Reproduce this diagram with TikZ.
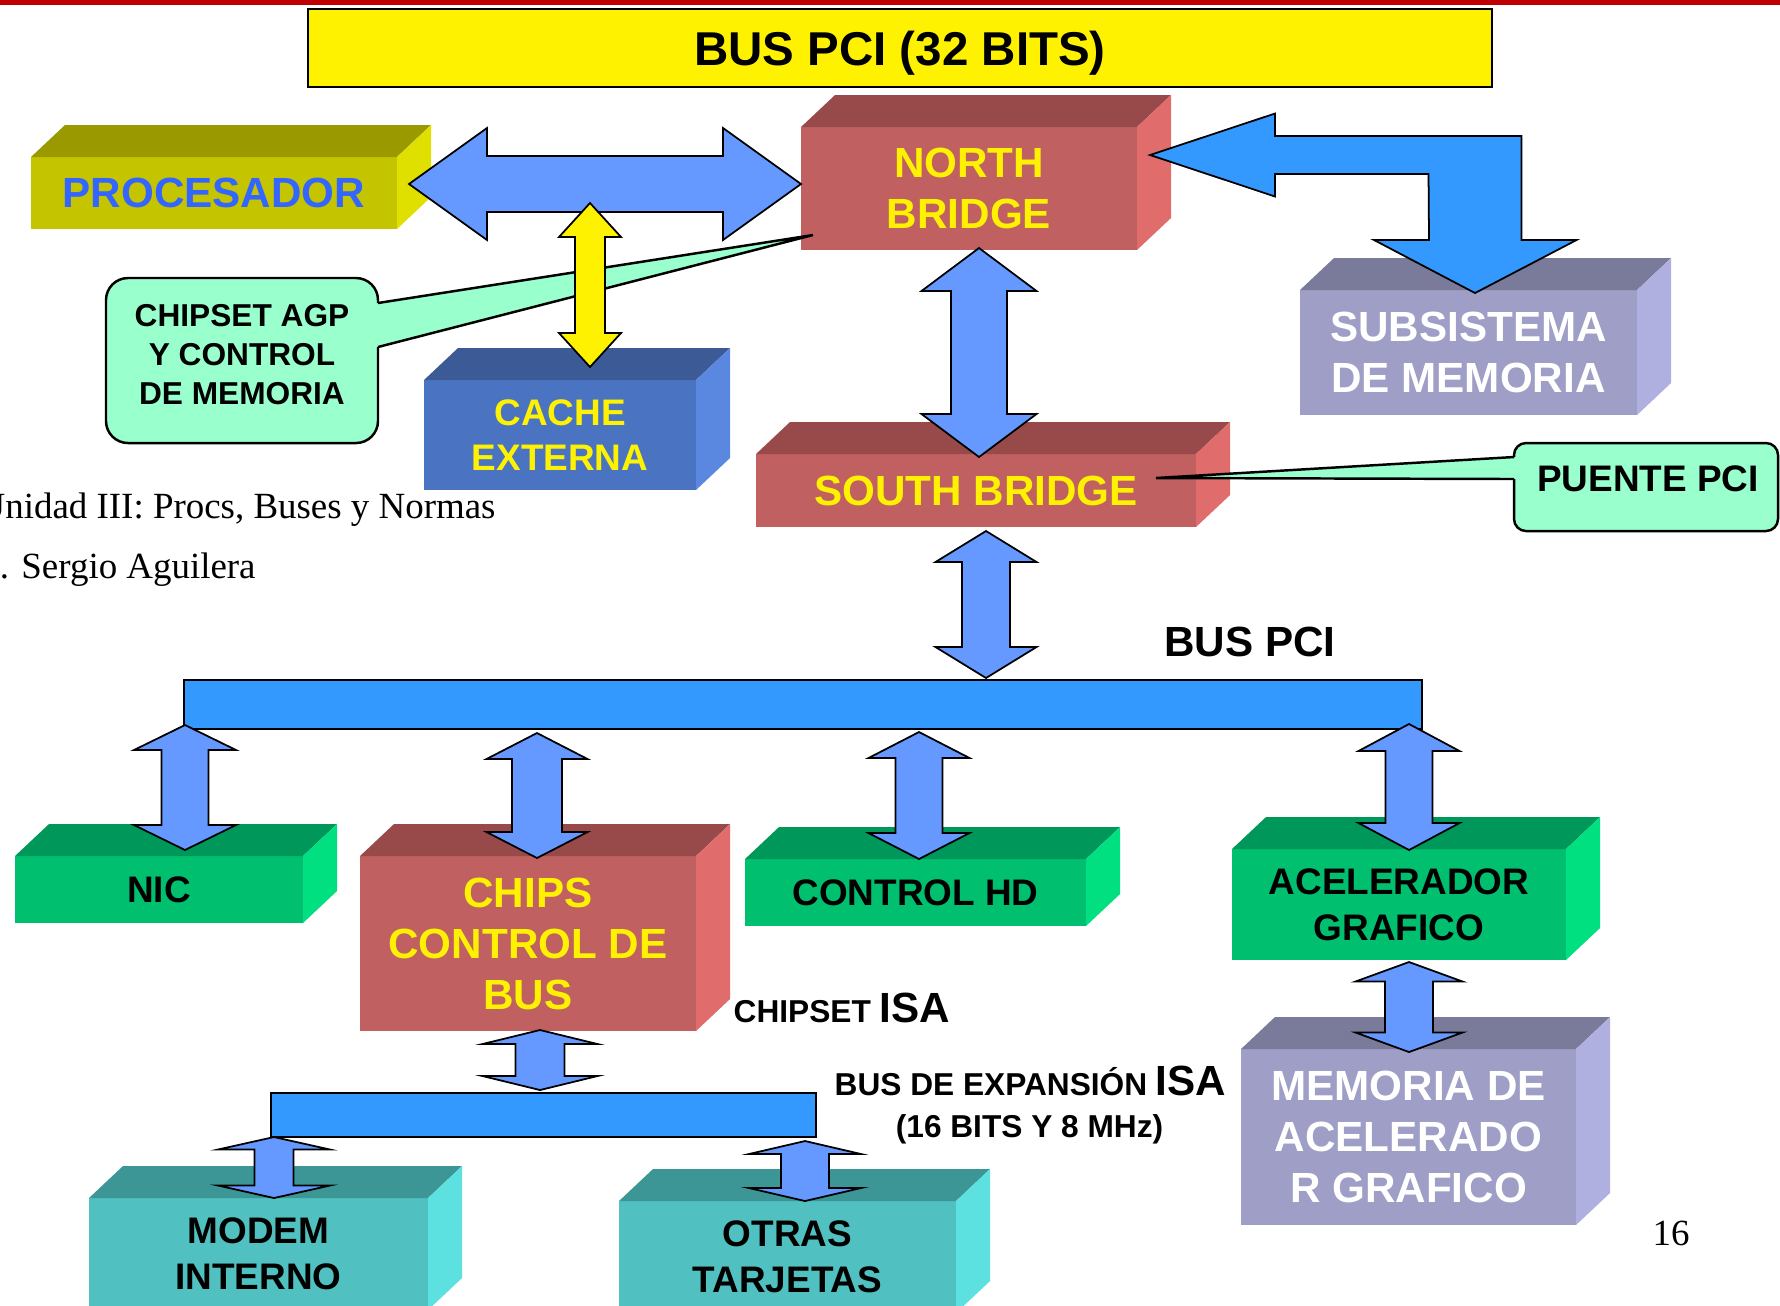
\documentclass[tikz,border=0pt]{standalone}
\usepackage{fontspec}
\setmainfont{Liberation Sans}
\newfontfamily\footerfont{Liberation Serif}
\usetikzlibrary{calc}

\definecolor{topred}{HTML}{C00000}
\definecolor{arrowblue}{HTML}{6699FF}
\definecolor{busblue}{HTML}{3399FF}
\definecolor{mint}{HTML}{99FFCC}
\definecolor{procblue}{HTML}{3366FF}
\definecolor{olivefront}{HTML}{C4C400}
\definecolor{olivetop}{HTML}{9A9A00}
\definecolor{oliveside}{HTML}{E0E000}
\definecolor{redfront}{HTML}{C06060}
\definecolor{redtop}{HTML}{984A4A}
\definecolor{redside}{HTML}{E06C6C}
\definecolor{lilacfront}{HTML}{9E9EC6}
\definecolor{lilactop}{HTML}{7A7A9A}
\definecolor{lilacside}{HTML}{B0B0E0}
\definecolor{cachefront}{HTML}{4A74C2}
\definecolor{cachetop}{HTML}{3C5A96}
\definecolor{cacheside}{HTML}{5A88E0}
\definecolor{greenfront}{HTML}{00C070}
\definecolor{greentop}{HTML}{00985A}
\definecolor{greenside}{HTML}{00E080}
\definecolor{tealfront}{HTML}{50C0C0}
\definecolor{tealtop}{HTML}{3C9696}
\definecolor{tealside}{HTML}{5CE0E0}

\tikzset{
  boxsize/.style 2 args={minimum width=#1*0.01cm, minimum height=#2*0.01cm},
  facebox/.style={rectangle, inner sep=0pt, outer sep=0pt, align=center},
  hugefont/.style={font=\fontsize{13.5}{16}\selectfont\bfseries},
  bigfont/.style={font=\fontsize{12}{14.5}\selectfont\bfseries},
  midfont/.style={font=\fontsize{10.5}{13}\selectfont\bfseries},
  smallfont/.style={font=\fontsize{9}{11}\selectfont\bfseries},
  bus/.style={facebox, draw, line width=0.5pt, fill=busblue},
  bubble/.style={facebox, fill=mint},
  blockarrow/.style={draw, line width=0.5pt, fill=arrowblue},
}

% top and side faces of a box
\newcommand{\cubesides}[3]{%
  \fill[#2] (#1.north west) -- ++(34,-32) -- ([shift={(34,-32)}]#1.north east) -- (#1.north east) -- cycle;
  \fill[#3] (#1.north east) -- ++(34,-32) -- ([shift={(34,-32)}]#1.south east) -- (#1.south east) -- cycle;
}

% fat double arrows: style, first tip, second tip, shaft half width, head half width, head length
\newcommand{\vdbl}[6]{%
  \coordinate (va) at #2;
  \coordinate (vb0) at #3;
  \coordinate (vb) at (va |- vb0);
  \filldraw[#1] (va) -- ++(#5,#6) -- ++(#4-#5,0) -- ($(vb)+(#4,-#6)$) -- ++(#5-#4,0) -- (vb)
    -- ++(-#5,-#6) -- ++(#5-#4,0) -- ($(va)+(-#4,#6)$) -- ++(#4-#5,0) -- cycle;
}
\newcommand{\hdbl}[6]{%
  \coordinate (ha) at #2;
  \coordinate (hb0) at #3;
  \coordinate (hb) at (ha -| hb0);
  \filldraw[#1] (ha) -- ++(#6,-#5) -- ++(0,#5-#4) -- ($(hb)+(-#6,-#4)$) -- ++(0,#4-#5) -- (hb)
    -- ++(-#6,#5) -- ++(0,#4-#5) -- ($(ha)+(#6,#4)$) -- ++(0,#5-#4) -- cycle;
}

\begin{document}
\begin{tikzpicture}[x=0.01cm, y=-0.01cm]
    \useasboundingbox (0,0) rectangle (1780,1305);
    \fill[topred] (0,0) rectangle (1780,5);
    \node[facebox, draw, line width=0.75pt, fill=yellow, boxsize={1184}{78}, hugefont, text depth=0pt] (title) at (900,48) {BUS PCI (32 BITS)};

    % boxes
    \node[facebox, boxsize={366}{72}, fill=olivefront, text=procblue, bigfont] (proc) at (214,193) {PROCESADOR};
    \cubesides{proc}{olivetop}{oliveside}
    \node[facebox, boxsize={336}{123}, fill=redfront, text=yellow, bigfont] (nb) at (969,188.5) {NORTH\\BRIDGE};
    \cubesides{nb}{redtop}{redside}
    \node[facebox, boxsize={337}{125}, fill=lilacfront, text=white, bigfont] (mem) at (1468.5,352.5) {SUBSISTEMA\\DE MEMORIA};
    \cubesides{mem}{lilactop}{lilacside}
    \node[facebox, boxsize={272}{110}, fill=cachefront, text=yellow, midfont] (cache) at (560,435) {CACHE\\EXTERNA};
    \cubesides{cache}{cachetop}{cacheside}
    \node[facebox, boxsize={440}{73}, fill=redfront, text=yellow, bigfont] (sb) at (976,490.5) {SOUTH BRIDGE};
    \cubesides{sb}{redtop}{redside}
    \node[facebox, boxsize={288}{67}, fill=greenfront, midfont] (nic) at (159,889.5) {NIC};
    \cubesides{nic}{greentop}{greenside}
    \node[facebox, boxsize={336}{175}, fill=redfront, text=yellow, bigfont] (chips) at (528,943.5) {CHIPS\\CONTROL DE\\BUS};
    \cubesides{chips}{redtop}{redside}
    \node[facebox, boxsize={341}{67}, fill=greenfront, midfont] (hd) at (915.5,892.5) {CONTROL HD};
    \cubesides{hd}{greentop}{greenside}
    \node[facebox, boxsize={334}{111}, fill=greenfront, midfont] (acel) at (1399,904.5) {ACELERADOR\\GRAFICO};
    \cubesides{acel}{greentop}{greenside}
    \node[facebox, boxsize={335}{176}, fill=lilacfront, text=white, bigfont] (memacel) at (1408.5,1137) {MEMORIA DE\\ACELERADO\\R GRAFICO};
    \cubesides{memacel}{lilactop}{lilacside}
    \node[facebox, boxsize={339}{112}, fill=tealfront, midfont] (modem) at (258.5,1254) {MODEM\\INTERNO};
    \cubesides{modem}{tealtop}{tealside}
    \node[facebox, boxsize={337}{112}, fill=tealfront, midfont] (otras) at (787.5,1257) {OTRAS\\TARJETAS};
    \cubesides{otras}{tealtop}{tealside}

    % buses
    \node[bus, boxsize={1238}{49}] (pcibus) at (803,704.5) {};
    \node[bus, boxsize={545}{44}] (isabus) at (543.5,1115) {};

    % callouts
    \node[bubble, rounded corners=0.22cm, boxsize={272}{165}] (agp) at (242,360.5) {};
    \fill[mint] ($(agp.north east)+(-2,25)$) -- ($(nb.south west)+(12,-15)$) -- ($(agp.north east)+(-2,69)$) -- cycle;
    \draw[line width=0.7pt, rounded corners=0.22cm] ($(agp.north east)+(0,69)$) -- (agp.south east) -- (agp.south west) -- (agp.north west) -- (agp.north east) -- ($(agp.north east)+(0,25)$);
    \draw[line width=0.7pt] ($(agp.north east)+(0,25)$) -- ($(nb.south west)+(12,-15)$) -- ($(agp.north east)+(0,69)$);
    \node[facebox, smallfont] (agptext) at ($(agp.center)+(0,-6)$) {CHIPSET AGP\\Y CONTROL\\DE MEMORIA};

    \node[bubble, rounded corners=0.12cm, boxsize={264}{88}] (puente) at (1646,487) {};
    \fill[mint] ($(puente.north west)+(2,14)$) -- ($(sb.east)+(-40,-12.5)$) -- ($(puente.north west)+(2,36)$) -- cycle;
    \draw[line width=0.7pt, rounded corners=0.12cm] ($(puente.north west)+(0,36)$) -- (puente.south west) -- (puente.south east) -- (puente.north east) -- (puente.north west) -- ($(puente.north west)+(0,14)$);
    \draw[line width=0.7pt] ($(puente.north west)+(0,14)$) -- ($(sb.east)+(-40,-12.5)$) -- ($(puente.north west)+(0,36)$);
    \node[facebox, midfont] (puentetext) at ($(puente.center)+(2,-8)$) {PUENTE PCI};

    % arrows
    \hdbl{blockarrow}{($(proc.east)+(12,-9)$)}{(nb.west)}{28}{56}{78}
    \vdbl{blockarrow, fill=yellow}{($(cache.north)+(30,-177)$)}{($(cache.north)+(0,-13)$)}{15}{31}{34}
    \vdbl{blockarrow}{($(nb.south)+(10,-2)$)}{($(sb.north)+(0,3)$)}{28}{57.5}{43}
    \coordinate (bendtip) at ($(nb.east)+(13,-33.5)$);
    \coordinate (memtip) at ($(mem.north)+(6.5,3)$);
    \filldraw[blockarrow, fill=busblue] (bendtip) -- ++(125,-41.5) -- ++(0,22.5) -- ($(bendtip -| memtip)+(46.5,-19)$)
        -- ($(memtip)+(46.5,-53)$) -- ++(55,0) -- (memtip) -- ++(-101,-53) -- ++(55,0)
        -- ($(bendtip -| memtip)+(-46.5,19)$) -- ($(bendtip)+(125,19)$) -- ++(0,22.5) -- cycle;
    \vdbl{blockarrow}{($(sb.south)+(10,4)$)}{($(pcibus.north)+(0,-2)$)}{24}{50.5}{31}
    \vdbl{blockarrow}{($(nic.north |- pcibus.south)+(26,-4)$)}{($(nic.north)+(0,-6)$)}{23.5}{51}{25}
    \vdbl{blockarrow}{($(chips.north |- pcibus.south)+(9,4)$)}{($(chips.north)+(0,2)$)}{25}{50.5}{26}
    \vdbl{blockarrow}{($(hd.north |- pcibus.south)+(3.5,3)$)}{(hd.north)}{23.5}{50.5}{26}
    \vdbl{blockarrow}{($(acel.north |- pcibus.south)+(10,-5)$)}{($(acel.north)+(0,1)$)}{23.5}{50.5}{27}
    \vdbl{blockarrow}{($(acel.south)+(10,2)$)}{($(memacel.north)+(0,3)$)}{24}{53.5}{19.5}
    \vdbl{blockarrow}{($(chips.south)+(12,-1)$)}{($(isabus.north)+(0,-3)$)}{24.5}{57.5}{14}
    \vdbl{blockarrow}{($(isabus.south west)+(3,0)$)}{(modem.north)}{19.5}{56}{12.5}
    \vdbl{blockarrow}{($(isabus.south east)+(-11,4)$)}{(otras.north)}{24}{56}{13}

    % labels
    \node[bigfont] (pcilabel) at (1250,642) {BUS PCI};
    \node[anchor=base west, inner sep=0pt, font=\bfseries] (chipsetisa) at (733,1022)
        {\fontsize{9}{11}\selectfont CHIPSET \fontsize{12}{14}\selectfont ISA};
    \node[anchor=base, inner sep=0pt, font=\bfseries] (isalabel) at (1030.5,1095)
        {\fontsize{9}{11}\selectfont BUS DE EXPANSIÓN \fontsize{12}{14}\selectfont ISA};
    \node[anchor=base, inner sep=0pt, smallfont] (isaspec) at (1029.5,1137) {(16 BITS Y 8 MHz)};
    \node[anchor=base west, inner sep=0pt, font=\footerfont\fontsize{10.5}{12}\selectfont] (unidad) at (-22,518) {Unidad III: Procs, Buses y Normas};
    \node[anchor=base west, inner sep=0pt, font=\footerfont\fontsize{10.5}{12}\selectfont] (autor) at (-50,578) {Ing. Sergio Aguilera};
    \node[anchor=base, inner sep=0pt, font=\footerfont\fontsize{10.5}{12}\selectfont] (pagenum) at (1671,1245) {16};
\end{tikzpicture}
\end{document}
